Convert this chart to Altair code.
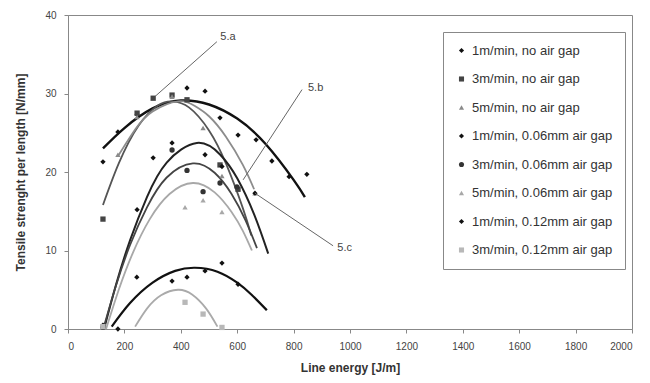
import altair as alt
import pandas as pd

SERIES = [
    "1m/min, no air gap", "3m/min, no air gap", "5m/min, no air gap",
    "1m/min, 0.06mm air gap", "3m/min, 0.06mm air gap", "5m/min, 0.06mm air gap",
    "1m/min, 0.12mm air gap", "3m/min, 0.12mm air gap",
]

# measured points (line energy J/m, tensile strength per length N/mm)
PX = [
    [124, 177, 245, 422, 486, 539, 603, 667, 723, 784, 847],
    [124, 245, 302, 369, 422, 539, 603],
    [177, 245, 369, 479, 546, 663],
    [124, 245, 302, 369, 486, 546, 663],
    [124, 369, 422, 479, 539, 599],
    [124, 415, 479, 546],
    [177, 244, 369, 422, 486, 546, 603],
    [124, 415, 479, 546],
]
PY = [
    [21.3, 25.1, 27.3, 30.7, 30.3, 26.9, 24.7, 24.1, 21.4, 19.4, 19.7],
    [14.0, 27.5, 29.4, 29.8, 29.2, 20.9, 17.8],
    [22.2, 27.0, 29.6, 25.6, 19.5, 17.3],
    [0.5, 15.2, 21.8, 23.7, 22.2, 20.7, 17.3],
    [0.2, 22.8, 20.2, 17.5, 18.6, 18.1],
    [0.3, 15.5, 16.4, 14.9],
    [0.0, 6.6, 6.1, 6.6, 7.4, 8.4, 5.7],
    [0.3, 3.4, 1.9, 0.2],
]

# trend curves
CX = [
    [124, 200, 300, 400, 500, 600, 700, 800, 840],
    [124, 180, 250, 320, 370, 430, 500, 560, 620, 650],
    [177, 240, 300, 390, 450, 500, 560, 620, 660],
    [128, 170, 220, 280, 350, 457, 540, 600, 660, 710],
    [125, 170, 220, 280, 350, 443, 520, 580, 630, 670],
    [135, 180, 230, 290, 360, 443, 520, 580, 620, 652],
    [155, 220, 300, 380, 450, 530, 600, 650, 705],
    [238, 280, 330, 390, 440, 490, 530],
]
CY = [
    [23.0, 25.6, 28.1, 29.1, 28.6, 26.8, 23.6, 19.0, 16.8],
    [15.8, 21.1, 25.9, 28.5, 29.0, 28.2, 25.3, 21.1, 15.4, 11.9],
    [22.0, 25.5, 27.7, 29.0, 28.4, 27.1, 24.5, 20.9, 17.8],
    [0.0, 5.6, 11.3, 16.8, 21.2, 23.7, 22.2, 19.2, 14.6, 9.6],
    [0.0, 5.5, 10.7, 15.5, 19.3, 21.1, 19.9, 17.2, 13.8, 10.3],
    [0.0, 5.0, 9.7, 14.0, 17.2, 18.6, 17.4, 14.9, 12.5, 10.0],
    [0.3, 3.3, 5.9, 7.4, 7.8, 7.3, 5.9, 4.4, 2.4],
    [0.3, 2.6, 4.3, 5.0, 4.4, 2.6, 0.3],
]

MARKER_COLORS = ["#111111", "#444444", "#8a8a8a", "#111111", "#333333", "#a8a8a8", "#111111", "#b8b8b8"]
MARKER_SHAPES = ["diamond", "square", "triangle-up", "diamond", "circle", "triangle-up", "diamond", "square"]
LINE_COLORS = ["#111111", "#555555", "#8c8c8c", "#222222", "#444444", "#a8a8a8", "#111111", "#aaaaaa"]
LINE_WIDTHS = [2.4, 1.8, 1.8, 2.0, 1.8, 1.8, 2.2, 1.8]

ANN_LABEL = ["5.a", "5.b", "5.c"]
ANN_X1 = [308, 621, 663]
ANN_Y1 = [29.6, 19.0, 17.3]
ANN_X2 = [528, 830, 940]
ANN_Y2 = [36.6, 30.5, 10.6]
ANN_TX = [540, 851, 955]
ANN_TY = [37.2, 30.7, 10.3]

X_TICKS = list(range(0, 2001, 200))
Y_TICKS = list(range(0, 41, 5))

pts_rows, crv_rows = [], []
for i, s in enumerate(SERIES):
    for x, y in zip(PX[i], PY[i]):
        pts_rows.append({"series": s, "x": x, "y": y})
    for j, (x, y) in enumerate(zip(CX[i], CY[i])):
        crv_rows.append({"series": s, "x": x, "y": y, "idx": j,
                         "lcolor": LINE_COLORS[i], "lw": LINE_WIDTHS[i]})
pts = pd.DataFrame(pts_rows)
crv = pd.DataFrame(crv_rows)
ann = pd.DataFrame({"label": ANN_LABEL, "x1": ANN_X1, "y1": ANN_Y1,
                    "x2": ANN_X2, "y2": ANN_Y2, "tx": ANN_TX, "ty": ANN_TY})

xs = alt.Scale(domain=[0, 2000], nice=False)
ys = alt.Scale(domain=[0, 40], nice=False)
xax = alt.Axis(values=X_TICKS, format="d", title="Line energy [J/m]")
yax = alt.Axis(values=Y_TICKS, format="d", title="Tensile strenght per length [N/mm]")

leg = alt.Legend(title=None, orient="none", legendX=375, legendY=17,
                 padding=12, strokeColor="#888888", fillColor="white",
                 rowPadding=14.5, labelFontSize=13, labelFont="Liberation Sans",
                 labelColor="#333333", symbolSize=26, labelLimit=300,
                 symbolStrokeWidth=0)

lines = alt.Chart(crv).mark_line(interpolate="natural").encode(
    x=alt.X("x:Q", scale=xs, axis=xax),
    y=alt.Y("y:Q", scale=ys, axis=yax),
    detail="series:N",
    order="idx:Q",
    color=alt.Color("lcolor:N", scale=None),
    strokeWidth=alt.StrokeWidth("lw:Q", scale=None),
)

points = alt.Chart(pts).mark_point(filled=True, size=28, opacity=1).encode(
    x=alt.X("x:Q", scale=xs),
    y=alt.Y("y:Q", scale=ys),
    color=alt.Color("series:N", scale=alt.Scale(domain=SERIES, range=MARKER_COLORS), legend=leg),
    shape=alt.Shape("series:N", scale=alt.Scale(domain=SERIES, range=MARKER_SHAPES), legend=leg),
)

rules = alt.Chart(ann).mark_rule(color="#666666", strokeWidth=1).encode(
    x="x1:Q", y="y1:Q", x2="x2:Q", y2="y2:Q")

texts = alt.Chart(ann).mark_text(align="left", baseline="middle", fontSize=11,
                                 font="Liberation Sans", color="#444444").encode(
    x="tx:Q", y="ty:Q", text="label:N")

chart = alt.layer(lines, points, rules, texts).properties(
    width=564, height=314,
    padding={"left": 60, "top": 7, "right": 10, "bottom": 52},
    autosize="none",
).configure_view(
    stroke="#888888", strokeWidth=1
).configure_axis(
    grid=False, domainColor="#888888", tickColor="#888888", tickSize=4,
    labelColor="#444444", labelFont="Liberation Sans", labelFontSize=10,
    titleFont="Liberation Sans", titleFontSize=12, titleFontWeight="bold",
    titleColor="#333333",
).configure_axisX(
    labelPadding=8, titlePadding=11
).configure_axisY(
    labelPadding=8, titlePadding=17
)

chart.save("out.html", embed_options={"renderer": "svg", "actions": False})
